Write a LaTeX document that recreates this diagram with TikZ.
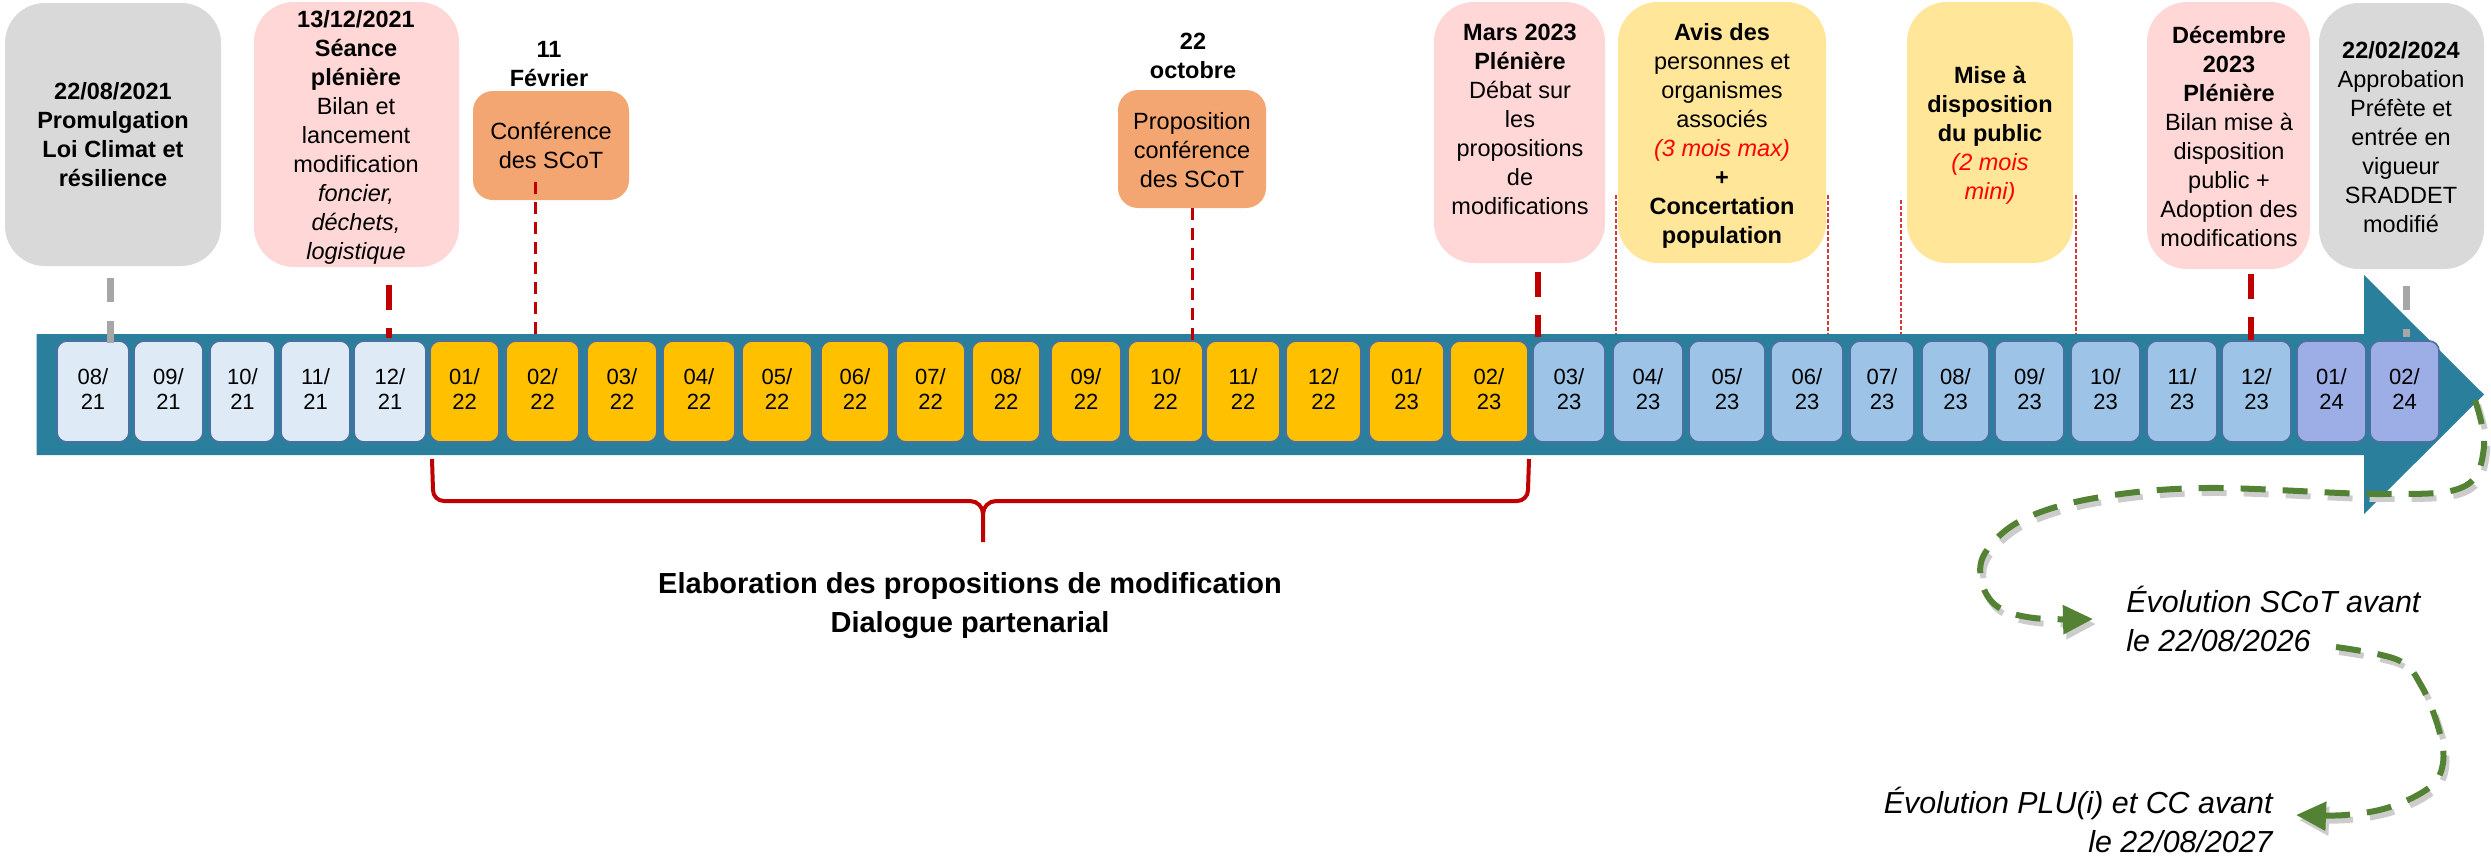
\documentclass[tikz,border=0pt]{standalone}
\usepackage{fontspec}
\setmainfont{Liberation Sans}
\usetikzlibrary{arrows.meta}
\definecolor{bandc}{HTML}{2A7F9C}
\definecolor{mA}{HTML}{DEEBF7}
\definecolor{mY}{HTML}{FFC000}
\definecolor{mB}{HTML}{9DC3E6}
\definecolor{mL}{HTML}{9DAEE6}
\definecolor{medge}{HTML}{4A6FA0}
\definecolor{grayb}{HTML}{D9D9D9}
\definecolor{pinkb}{HTML}{FFD7D7}
\definecolor{orangeb}{HTML}{F4A672}
\definecolor{yellowb}{HTML}{FFE699}
\definecolor{darkred}{HTML}{C00000}
\definecolor{grayl}{HTML}{A6A6A6}
\definecolor{greenc}{HTML}{548235}
\definecolor{redt}{HTML}{FF0000}
\definecolor{dotred}{HTML}{D33A3A}
\newcommand\redit[1]{{\color{redt}\itshape #1}}
\begin{document}
\begin{tikzpicture}[x=0.5pt,y=-0.5pt,
  topbox/.style={rounded corners=20pt, inner sep=0pt, draw=none},
  evbox/.style={rounded corners=10pt, inner sep=0pt, draw=none, fill=orangeb},
  boxtext/.style={align=center, inner sep=0pt, font=\fontsize{11.75pt}{14.5pt}\selectfont},
  monthbox/.style={rounded corners=5pt, draw=medge, line width=0.8pt, inner sep=0pt, minimum height=50.5pt, align=center, font=\fontsize{11pt}{12.5pt}\selectfont},
  thickred/.style={draw=darkred, line width=3pt, dash pattern=on 12.5pt off 9pt},
  thinred/.style={draw=darkred, line width=1.5pt, dash pattern=on 6pt off 4pt},
  grayconn/.style={draw=grayl, line width=3.5pt, dash pattern=on 12pt off 9.5pt},
  limitline/.style={draw=dotred, line width=0.75pt, dash pattern=on 2pt off 1pt},
  gline/.style={draw=greenc, line width=3pt, dash pattern=on 12.5pt off 8.5pt, -{Triangle[length=15pt,width=14pt]},
     preaction={draw=black!20, line width=3pt, dash pattern=on 12.5pt off 8.5pt, transform canvas={xshift=1.5pt,yshift=-2.5pt}}},
  bigtext/.style={inner sep=0pt, font=\fontsize{14.5pt}{19.5pt}\selectfont},
  sidetext/.style={inner sep=0pt, font=\fontsize{15.2pt}{19.5pt}\selectfont},
]
\useasboundingbox (0,0) rectangle (2491,858);

% timeline arrow
\fill[bandc] (36.7,334) -- (2364,334) -- (2364,275) -- (2484,394.5) -- (2364,514) -- (2364,455) -- (36.7,455) -- cycle;

% month boxes
\foreach \lft/\rgt/\mo/\yy/\cl [count=\i] in {
 57/129/08/21/mA, 134/203/09/21/mA, 210/275/10/21/mA, 281/350/11/21/mA, 354/426/12/21/mA,
 430/499/01/22/mY, 506/579/02/22/mY, 587/657/03/22/mY, 663/735/04/22/mY, 742/812/05/22/mY,
 821/889/06/22/mY, 896/965/07/22/mY, 972/1040/08/22/mY, 1051/1121/09/22/mY, 1128/1203/10/22/mY,
 1206/1280/11/22/mY, 1286/1361/12/22/mY, 1369/1444/01/23/mY, 1450/1528/02/23/mY,
 1533/1605/03/23/mB, 1613/1683/04/23/mB, 1689/1765/05/23/mB, 1771/1843/06/23/mB, 1850/1914/07/23/mB,
 1922/1989/08/23/mB, 1995/2064/09/23/mB, 2071/2140/10/23/mB, 2147/2217/11/23/mB, 2222/2291/12/23/mB,
 2297/2366/01/24/mL, 2370/2439/02/24/mL} {
  \pgfmathsetmacro\bw{(\rgt-\lft)*0.5}
  \pgfmathsetmacro\cx{(\rgt+\lft)/2}
  \node[monthbox, fill=\cl, minimum width=\bw pt] (m\i) at (\cx,391.5) {\strut\mo/\\\yy\strut};
}

% top boxes
\node[topbox, fill=grayb, minimum width=108pt, minimum height=131.5pt] (A) at (113,134.5) {};
\node[boxtext] (At) at (113,137) {\strut\textbf{22/08/2021}\\\textbf{Promulgation}\\\textbf{Loi Climat et}\\\textbf{résilience}\strut};

\node[topbox, fill=pinkb, minimum width=102.5pt, minimum height=132.5pt] (B) at (356.5,134.5) {};
\node[boxtext] (Bt) at (356,138) {\strut\textbf{13/12/2021}\\\textbf{Séance}\\\textbf{plénière}\\Bilan et\\lancement\\modification\\\textit{foncier,}\\\textit{déchets,}\\\textit{logistique}\strut};

\node[boxtext] (Cl) at (549,66.5) {\strut\textbf{11}\\\textbf{Février}\strut};
\node[evbox, minimum width=78pt, minimum height=54.5pt] (C) at (551,145.5) {};
\node[boxtext] (Ct) at (551,148.5) {\strut Conférence\\des SCoT\strut};

\node[boxtext] (Dl) at (1193,58.5) {\strut\textbf{22}\\\textbf{octobre}\strut};
\node[evbox, minimum width=74pt, minimum height=59pt] (D) at (1192,149) {};
\node[boxtext] (Dt) at (1192,152.5) {\strut Proposition\\conférence\\des SCoT\strut};

\node[topbox, fill=pinkb, minimum width=85.5pt, minimum height=130.5pt] (E) at (1519.5,132.5) {};
\node[boxtext] (Et) at (1520,121.5) {\strut\textbf{Mars 2023}\\\textbf{Plénière}\\Débat sur\\les\\propositions\\de\\modifications\strut};

\node[topbox, fill=yellowb, minimum width=104pt, minimum height=130.5pt] (F) at (1722,132.5) {};
\node[boxtext] (Ft) at (1722,136) {\strut\textbf{Avis des}\\personnes et\\organismes\\associés\\\redit{(3 mois max)}\\\textbf{+}\\\textbf{Concertation}\\\textbf{population}\strut};

\node[topbox, fill=yellowb, minimum width=83pt, minimum height=130.5pt] (G) at (1990,132.5) {};
\node[boxtext] (Gt) at (1990,135.5) {\strut\textbf{Mise à}\\\textbf{disposition}\\\textbf{du public}\\\redit{(2 mois}\\\redit{mini)}\strut};

\node[topbox, fill=pinkb, minimum width=81.5pt, minimum height=133.5pt] (H) at (2228.5,135.5) {};
\node[boxtext] (Ht) at (2229,139) {\strut\textbf{Décembre}\\\textbf{2023}\\\textbf{Plénière}\\Bilan mise à\\disposition\\public +\\Adoption des\\modifications\strut};

\node[topbox, fill=grayb, minimum width=82.5pt, minimum height=133pt] (I) at (2401.5,136) {};
\node[boxtext] (It) at (2401,140) {\strut\textbf{22/02/2024}\\Approbation\\Préfète et\\entrée en\\vigueur\\SRADDET\\modifié\strut};

% connectors from events to the timeline
\coordinate (a1) at (110,343);
\coordinate (b1) at (389,338);
\coordinate (c1) at (535.5,334);
\coordinate (d1) at (1192,342);
\coordinate (e1) at (1538,337);
\coordinate (h1) at (2251,340);
\coordinate (i1) at (2406,337);
\draw[grayconn, shorten <=6pt] (A.south -| a1) -- (a1);
\draw[thickred, shorten <=9pt] (B.south -| b1) -- (b1);
\draw[thinred, shorten <=-9pt] (C.south -| c1) -- (c1);
\draw[thinred] (D.south -| d1) -- (d1);
\draw[thickred, shorten <=4.5pt] (E.south -| e1) -- (e1);
\draw[thickred, shorten <=2.5pt] (H.south -| h1) -- (h1);
\draw[grayconn, shorten <=8.5pt] (I.south -| i1) -- (i1);

% period limits
\coordinate (p1t) at (1616,195); \coordinate (p1b) at (1616,334);
\coordinate (p2t) at (1828,195); \coordinate (p2b) at (1828,334);
\coordinate (p3t) at (1901,200); \coordinate (p3b) at (1901,334);
\coordinate (p4t) at (2076,195); \coordinate (p4b) at (2076,334);
\draw[limitline] (p1t) -- (p1b);
\draw[limitline] (p2t) -- (p2b);
\draw[limitline] (p3t) -- (p3b);
\draw[limitline] (p4t) -- (p4b);

% brace
\draw[darkred, line width=2pt]
  (432,459) -- (433,490) to[out=-90,in=180] (444,501) -- (970,501) to[out=0,in=90] (983,514) -- (983,542)
  (1529,459) -- (1528,490) to[out=-90,in=0] (1517,501) -- (996,501) to[out=180,in=90] (983,514);
\node[bigtext, align=center] (elab) at (970,605) {\strut\textbf{Elaboration des propositions de modification}\\\textbf{Dialogue partenarial}\strut};

% after the plan
\node[sidetext, align=left, anchor=north west] (s1) at (2126,584.7) {\strut\textit{Évolution SCoT avant}\\\textit{le 22/08/2026}\strut};
\node[sidetext, align=right, anchor=north east] (s2) at (2274,785.7) {\strut\textit{Évolution PLU(i) et CC avant}\\\textit{le 22/08/2027}\strut};
\coordinate (g0) at (2475,400);
\coordinate (g1) at (2093,619);
\coordinate (g2) at (2336,647);
\coordinate (g3) at (2296,815);
\draw[gline] plot[smooth, tension=0.6] coordinates {(g0) (2484,447) (2463,487) (2380,494) (2206,488) (2095,498) (2022,520) (1985,553) (1982,583) (1998,607) (2034,618) (g1)};
\draw[gline] plot[smooth, tension=0.6] coordinates {(g2) (2398,660) (2422,687) (2439,730) (2443,763) (2430,787) (2390,807) (2345,815) (g3)};
\end{tikzpicture}
\end{document}
